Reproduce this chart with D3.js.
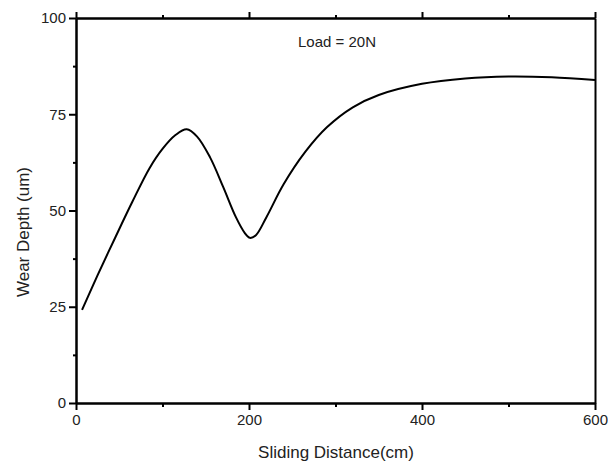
<!DOCTYPE html>
<html>
<head>
<meta charset="utf-8">
<script src="https://cdn.jsdelivr.net/npm/d3@7"></script>
<style>
  body { margin: 0; background: #fff; }
  svg text { font-family: "Liberation Sans", Arial, sans-serif; fill: #222; }
</style>
</head>
<body>
<svg id="chart" width="608" height="468"></svg>
<script>
// data
var distance = [7, 25, 45, 65, 85, 100, 115, 128, 140, 155, 170, 185, 195, 201, 208, 220, 240, 265, 290, 320, 350, 400, 450, 500, 550, 600];
var depth    = [24.2, 33.2, 42.8, 52.2, 61.0, 66.0, 69.6, 71.1, 69.2, 63.8, 56.2, 48.2, 44.2, 42.9, 43.6, 48.2, 56.8, 65.2, 71.6, 76.8, 80.0, 82.9, 84.3, 84.8, 84.6, 83.9];
var xTicks = [0, 200, 400, 600];
var xMinor = [100, 300, 500];
var yTicks = [0, 25, 50, 75, 100];
var yMinor = [12.5, 37.5, 62.5, 87.5];

// plot box (top is reserved by window, so p* names)
var pLeft = 76, pRight = 595, pTop = 18, pBottom = 403;

var svg = d3.select("#chart");

var x = d3.scaleLinear().domain([0, 600]).range([pLeft, pRight]);
var y = d3.scaleLinear().domain([0, 100]).range([pBottom, pTop]);

// bottom axis
svg.append("g").attr("transform", "translate(0," + pBottom + ")")
    .call(d3.axisBottom(x).tickValues(xTicks).tickSize(7).tickPadding(4).tickSizeOuter(0));
svg.append("g").attr("transform", "translate(0," + pBottom + ")")
    .call(d3.axisBottom(x).tickValues(xMinor).tickSize(4).tickFormat("").tickSizeOuter(0));

// top axis (ticks, no labels)
svg.append("g").attr("transform", "translate(0," + pTop + ")")
    .call(d3.axisTop(x).tickValues(xTicks).tickSize(6).tickFormat("").tickSizeOuter(0));
svg.append("g").attr("transform", "translate(0," + pTop + ")")
    .call(d3.axisTop(x).tickValues(xMinor).tickSize(3).tickFormat("").tickSizeOuter(0));

// left axis
svg.append("g").attr("transform", "translate(" + pLeft + ",0)")
    .call(d3.axisLeft(y).tickValues(yTicks).tickSize(7).tickPadding(3).tickSizeOuter(0));
svg.append("g").attr("transform", "translate(" + pLeft + ",0)")
    .call(d3.axisLeft(y).tickValues(yMinor).tickSize(3).tickFormat("").tickSizeOuter(0));

// right axis line
svg.append("g").attr("transform", "translate(" + pRight + ",0)")
    .call(d3.axisRight(y).tickValues([]).tickSizeOuter(0));

svg.selectAll(".domain").attr("stroke", "#000").attr("stroke-width", 2);
svg.selectAll(".tick line").attr("stroke", "#000").attr("stroke-width", 2);
svg.selectAll(".tick text").attr("font-size", 15).style("font-family", "'Liberation Sans', Arial, sans-serif").attr("fill", "#333");

// curve
var line = d3.line()
    .x(function(d, i) { return x(distance[i]); })
    .y(function(d) { return y(d); })
    .curve(d3.curveCatmullRom.alpha(0.5));

svg.append("path")
    .datum(depth)
    .attr("d", line)
    .attr("fill", "none")
    .attr("stroke", "#000")
    .attr("stroke-width", 2);

// texts
svg.append("text")
    .attr("x", 337).attr("y", 47)
    .attr("text-anchor", "middle")
    .attr("font-size", 15)
    .text("Load = 20N");

svg.append("text")
    .attr("x", 336).attr("y", 458)
    .attr("text-anchor", "middle")
    .attr("font-size", 17)
    .text("Sliding Distance(cm)");

svg.append("text")
    .attr("transform", "translate(29,232) rotate(-90)")
    .attr("text-anchor", "middle")
    .attr("font-size", 17)
    .text("Wear Depth (um)");
</script>
</body>
</html>
